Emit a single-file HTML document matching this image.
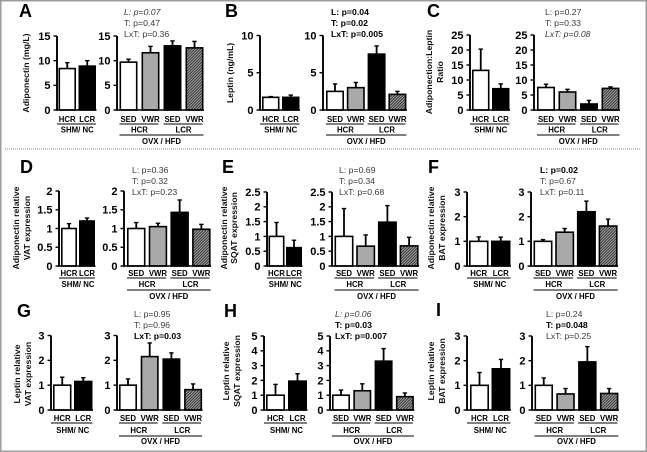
<!DOCTYPE html>
<html lang="en">
<head>
<meta charset="utf-8">
<title>Adiponectin and leptin bar charts</title>
<style>
html,body{margin:0;padding:0;background:#fff;width:647px;height:452px;overflow:hidden}
svg{display:block;font-family:"Liberation Sans",Arial,sans-serif;filter:blur(0.35px)}
.title{font-size:8.7px;font-weight:bold;fill:#111;text-anchor:middle}
.letter{font-size:18px;font-weight:bold;fill:#000}
.stat{font-size:8.7px;fill:#3a3a3a}
.stat.b{font-weight:bold;fill:#000}
.stat.i{font-style:italic}
.tick{font-size:11px;font-weight:bold;fill:#000;text-anchor:end}
.cat{font-size:7.8px;font-weight:bold;fill:#000;text-anchor:middle}
</style>
</head>
<body>
<svg id="figure" width="647" height="452" viewBox="0 0 647 452" xmlns="http://www.w3.org/2000/svg">
<defs>
<pattern id="hatch" patternUnits="userSpaceOnUse" width="2" height="2" patternTransform="rotate(45)">
<rect width="2" height="2" fill="#a8a8a8"/>
<rect width="0.9" height="2" fill="#222"/>
</pattern>
</defs>
<rect x="0.75" y="0.75" width="645.5" height="450.5" fill="#fff" stroke="#9c9c9c" stroke-width="1.5"/>
<line x1="5" y1="149" x2="640" y2="149" stroke="#666" stroke-width="0.8" stroke-dasharray="1 1"/>

<text class="letter" x="19" y="17">A</text>
<text class="letter" x="225" y="17">B</text>
<text class="letter" x="427" y="17">C</text>
<text class="letter" x="20" y="173">D</text>
<text class="letter" x="222" y="173">E</text>
<text class="letter" x="428" y="173">F</text>
<text class="letter" x="17" y="317">G</text>
<text class="letter" x="224" y="317">H</text>
<text class="letter" x="436" y="316">I</text>

<text class="title" transform="translate(29,73) rotate(-90)">Adiponectin (mg/L)</text>
<text class="title" transform="translate(233,73) rotate(-90)">Leptin (ng/mL)</text>
<text class="title" transform="translate(432,72) rotate(-90)">Adiponection:Leptin</text>
<text class="title" transform="translate(443,72) rotate(-90)">Ratio</text>
<text class="title" transform="translate(19,228) rotate(-90)">Adiponectin relative</text>
<text class="title" transform="translate(30,228) rotate(-90)">VAT expression</text>
<text class="title" transform="translate(227,228) rotate(-90)">Adiponectin relative</text>
<text class="title" transform="translate(237,228) rotate(-90)">SQAT expression</text>
<text class="title" transform="translate(434,228) rotate(-90)">Adiponectin relative</text>
<text class="title" transform="translate(445,228) rotate(-90)">BAT expression</text>
<text class="title" transform="translate(20,374) rotate(-90)">Leptin relative</text>
<text class="title" transform="translate(31,374) rotate(-90)">VAT expression</text>
<text class="title" transform="translate(229,371) rotate(-90)">Leptin relative</text>
<text class="title" transform="translate(240,371) rotate(-90)">SQAT expression</text>
<text class="title" transform="translate(434,371) rotate(-90)">Leptin relative</text>
<text class="title" transform="translate(445,371) rotate(-90)">BAT expression</text>

<text class="stat i" x="124" y="15">L: p=0.07</text>
<text class="stat" x="124" y="26">T: p=0.47</text>
<text class="stat" x="124" y="37">LxT: p=0.36</text>
<text class="stat b" x="331" y="15">L: p=0.04</text>
<text class="stat b" x="331" y="26">T: p=0.02</text>
<text class="stat b" x="331" y="37">LxT: p=0.005</text>
<text class="stat" x="545" y="15">L: p=0.27</text>
<text class="stat" x="545" y="26">T: p=0.33</text>
<text class="stat i" x="545" y="37">LxT: p=0.08</text>
<text class="stat" x="132" y="173">L: p=0.36</text>
<text class="stat" x="132" y="184">T: p=0.32</text>
<text class="stat" x="132" y="195">LxT: p=0.23</text>
<text class="stat" x="339" y="173">L: p=0.69</text>
<text class="stat" x="339" y="184">T: p=0.34</text>
<text class="stat" x="339" y="195">LxT: p=0.68</text>
<text class="stat b" x="540" y="173">L: p=0.02</text>
<text class="stat" x="540" y="184">T: p=0.67</text>
<text class="stat" x="540" y="195">LxT: p=0.11</text>
<text class="stat" x="134" y="317">L: p=0.95</text>
<text class="stat" x="134" y="328">T: p=0.96</text>
<text class="stat b" x="134" y="339">LxT: p=0.03</text>
<text class="stat i" x="335" y="317">L: p=0.06</text>
<text class="stat b" x="335" y="328">T: p=0.03</text>
<text class="stat b" x="335" y="339">LxT: p=0.007</text>
<text class="stat" x="546" y="317">L: p=0.24</text>
<text class="stat b" x="546" y="328">T: p=0.048</text>
<text class="stat" x="546" y="339">LxT: p=0.25</text>
</svg>

<script>
// ---- Category labels ----
const shamCategories = ['HCR', 'LCR'];
const ovxCategories = ['SED', 'VWR', 'SED', 'VWR'];
const ovxLineGroups = ['HCR', 'LCR'];
const shamGroupLabel = 'SHM/ NC';
const ovxGroupLabel = 'OVX / HFD';

// ---- Panel A ----
const aTicks = [0, 5, 10, 15];
const aShamMeans = [8.4, 8.9];
const aShamErrTops = [9.6, 10.0];
const aOvxMeans = [9.7, 11.6, 13.0, 12.6];
const aOvxErrTops = [10.3, 12.9, 14.0, 13.9];
// ---- Panel B ----
const bTicks = [0, 5, 10];
const bShamMeans = [1.7, 1.7];
const bShamErrTops = [1.8, 2.0];
const bOvxMeans = [2.5, 3.0, 7.5, 2.1];
const bOvxErrTops = [3.5, 3.7, 8.6, 2.5];
// ---- Panel C ----
const cTicks = [0, 5, 10, 15, 20, 25];
const cShamMeans = [13.2, 7.1];
const cShamErrTops = [20.3, 8.7];
const cOvxMeans = [7.5, 6.0, 2.0, 7.2];
const cOvxErrTops = [8.6, 6.9, 3.2, 7.7];
// ---- Panel D ----
const dTicks = [0, 0.5, 1, 1.5, 2];
const dShamMeans = [1.0, 1.2];
const dShamErrTops = [1.13, 1.28];
const dOvxMeans = [1.0, 1.05, 1.43, 0.98];
const dOvxErrTops = [1.16, 1.14, 1.76, 1.11];
// ---- Panel E ----
const eTicks = [0, 0.5, 1, 1.5, 2, 2.5];
const eShamMeans = [1.0, 0.62];
const eShamErrTops = [1.47, 0.87];
const eOvxMeans = [1.0, 0.67, 1.48, 0.68];
const eOvxErrTops = [1.94, 1.05, 2.04, 0.97];
// ---- Panel F ----
const fTicks = [0, 1, 2, 3];
const fShamMeans = [1.0, 1.0];
const fShamErrTops = [1.18, 1.17];
const fOvxMeans = [1.0, 1.37, 2.2, 1.62];
const fOvxErrTops = [1.07, 1.52, 2.63, 1.9];
// ---- Panel G ----
const gTicks = [0, 1, 2, 3];
const gShamMeans = [1.0, 1.15];
const gShamErrTops = [1.32, 1.3];
const gOvxMeans = [1.0, 2.15, 2.05, 0.82];
const gOvxErrTops = [1.25, 2.7, 2.3, 1.05];
// ---- Panel H ----
const hTicks = [0, 1, 2, 3, 4, 5];
const hShamMeans = [1.0, 1.95];
const hShamErrTops = [1.73, 2.45];
const hOvxMeans = [1.0, 1.3, 3.3, 0.9];
const hOvxErrTops = [1.35, 1.77, 4.15, 1.15];
// ---- Panel I ----
const iTicks = [0, 1, 2, 3];
const iShamMeans = [1.0, 1.67];
const iShamErrTops = [1.52, 2.05];
const iOvxMeans = [1.0, 0.65, 1.95, 0.67];
const iOvxErrTops = [1.3, 0.87, 2.57, 0.87];

// Panel geometry (pixels), kept apart from the data.
const panels = [
  {id:'a', ticks:aTicks, sm:aShamMeans, se:aShamErrTops, om:aOvxMeans, oe:aOvxErrTops, top:36, bot:110, row:0, lx:57, l0:58.5, ls:20, lw:17.5, rx:117, r0:119.5, rs:22, rw:18},
  {id:'b', ticks:bTicks, sm:bShamMeans, se:bShamErrTops, om:bOvxMeans, oe:bOvxErrTops, top:35.5, bot:110, row:0, lx:260, l0:262, ls:20, lw:17.5, rx:323, r0:326, rs:20.8, rw:18},
  {id:'c', ticks:cTicks, sm:cShamMeans, se:cShamErrTops, om:cOvxMeans, oe:cOvxErrTops, top:35, bot:110, row:0, lx:470, l0:472, ls:20, lw:17.5, rx:534, r0:537, rs:21.5, rw:18},
  {id:'d', ticks:dTicks, sm:dShamMeans, se:dShamErrTops, om:dOvxMeans, oe:dOvxErrTops, top:191, bot:266, row:1, lx:59, l0:61, ls:18, lw:16, rx:124, r0:127, rs:21.7, rw:18.5},
  {id:'e', ticks:eTicks, sm:eShamMeans, se:eShamErrTops, om:eOvxMeans, oe:eOvxErrTops, top:192, bot:266, row:1, lx:267, l0:268.5, ls:17.5, lw:16, rx:332, r0:334.5, rs:21.7, rw:19},
  {id:'f', ticks:fTicks, sm:fShamMeans, se:fShamErrTops, om:fOvxMeans, oe:fOvxErrTops, top:192, bot:266, row:1, lx:467, l0:469, ls:22, lw:19.5, rx:531, r0:533.5, rs:21.7, rw:19},
  {id:'g', ticks:gTicks, sm:gShamMeans, se:gShamErrTops, om:gOvxMeans, oe:gOvxErrTops, top:335.5, bot:410, row:2, lx:51, l0:53, ls:21, lw:18.5, rx:117, r0:119, rs:21.7, rw:18},
  {id:'h', ticks:hTicks, sm:hShamMeans, se:hShamErrTops, om:hOvxMeans, oe:hOvxErrTops, top:336, bot:410, row:2, lx:264, l0:266, ls:22, lw:19, rx:330, r0:332, rs:21.3, rw:18},
  {id:'i', ticks:iTicks, sm:iShamMeans, se:iShamErrTops, om:iOvxMeans, oe:iOvxErrTops, top:336, bot:410, row:2, lx:467, l0:470, ls:21.5, lw:19, rx:532, r0:534.5, rs:21.8, rw:18.5}
];
// Baselines / rule positions of the x-axis label stack for each row of panels.
const rowLabelY = [
  {cat:122, line1:124, sub:132.5, line2:135, bottom:144},
  {cat:276, line1:278, sub:287, line2:290, bottom:299},
  {cat:421, line1:423, sub:433, line2:436, bottom:444}
];

const svgNS = 'http://www.w3.org/2000/svg';
const root = document.getElementById('figure');

function make(parent, tag, attrs, text) {
  const el = document.createElementNS(svgNS, tag);
  for (const k in attrs) el.setAttribute(k, attrs[k]);
  if (text !== undefined) el.textContent = text;
  parent.appendChild(el);
  return el;
}
function makeLine(parent, x1, y1, x2, y2, w) {
  return make(parent, 'line', {x1: x1, y1: y1, x2: x2, y2: y2, stroke: '#000', 'stroke-width': w});
}
function yScale(p) {
  const max = p.ticks[p.ticks.length - 1];
  return function (v) { return p.bot - (v / max) * (p.bot - p.top); };
}
function drawAxis(g, p, axisX, side) {
  const y = yScale(p);
  const axis = makeLine(g, axisX, y(p.ticks[p.ticks.length - 1]), axisX, p.bot + 0.8, 1.9);
  
  
  const base = makeLine(g, axisX, p.bot, side === 'sham' ? p.l0 + p.ls + p.lw + 0.5 : p.r0 + 3 * p.rs + p.rw + 0.5, p.bot, 1.6);
  
  
  p.ticks.forEach(function (t) {
    const mark = makeLine(g, axisX - 3.5, y(t), axisX, y(t), 1.4);
    
    
    const label = make(g, 'text', {class: 'tick', x: axisX - 6.5, y: y(t) + 3.9}, String(t));
    
    
  });
}
function drawBar(g, p, x, w, mean, errTop, fill, name) {
  const y = yScale(p);
  const cx = x + w / 2;
  const stem = makeLine(g, cx, y(errTop), cx, y(mean), 1.8);
  
  
  const cap = makeLine(g, cx - 2.2, y(errTop), cx + 2.2, y(errTop), 1.4);
  
  
  const bar = make(g, 'rect', {x: x + 0.8, y: y(mean), width: w - 1.6, height: p.bot - y(mean), fill: fill, stroke: '#000', 'stroke-width': 1.6});
  
  
}
function drawCatLabel(g, x, y, text, name) {
  const t = make(g, 'text', {class: 'cat', x: x, y: y}, text);
  
  
}
function drawRule(g, x1, x2, y, name) {
  const r = makeLine(g, x1, y, x2, y, 1.1);
  
  
}

const shamFills = ['#fff', '#000'];
const ovxFills = ['#fff', '#a9a9a9', '#000', 'url(#hatch)'];

panels.forEach(function (p) {
  const g = make(root, 'g', {});
  
  
  const rows = rowLabelY[p.row];

  // Sham group
  p.sm.forEach(function (m, i) {
    const x = p.l0 + i * p.ls;
    drawBar(g, p, x, p.lw, m, p.se[i], shamFills[i], 'bar-' + p.id + '-sham-' + shamCategories[i].toLowerCase());
    drawCatLabel(g, x + p.lw / 2, rows.cat, shamCategories[i], 'sham-category-label');
  });
  drawAxis(g, p, p.lx, 'sham');
  drawRule(g, p.lx, p.l0 + p.ls + p.lw, rows.line1, 'sham-underline');
  drawCatLabel(g, p.l0 + (p.ls + p.lw) / 2, rows.sub, shamGroupLabel, 'sham-group-label');

  // OVX group
  p.om.forEach(function (m, i) {
    const x = p.r0 + i * p.rs;
    drawBar(g, p, x, p.rw, m, p.oe[i], ovxFills[i], 'bar-' + p.id + '-ovx-' + i);
    drawCatLabel(g, x + p.rw / 2, rows.cat, ovxCategories[i], 'ovx-category-label');
  });
  drawAxis(g, p, p.rx, 'ovx');
  ovxLineGroups.forEach(function (label, k) {
    const x0 = p.r0 + 2 * k * p.rs;
    const x1 = x0 + p.rs + p.rw;
    drawRule(g, x0, x1 - 1, rows.line1, 'ovx-line-underline');
    drawCatLabel(g, (x0 + x1) / 2, rows.sub, label, 'ovx-line-label');
  });
  drawRule(g, p.r0, p.r0 + 3 * p.rs + p.rw, rows.line2, 'ovx-group-underline');
  drawCatLabel(g, p.r0 + (3 * p.rs + p.rw) / 2, rows.bottom, ovxGroupLabel, 'ovx-group-label');
});
</script>
</body>
</html>
